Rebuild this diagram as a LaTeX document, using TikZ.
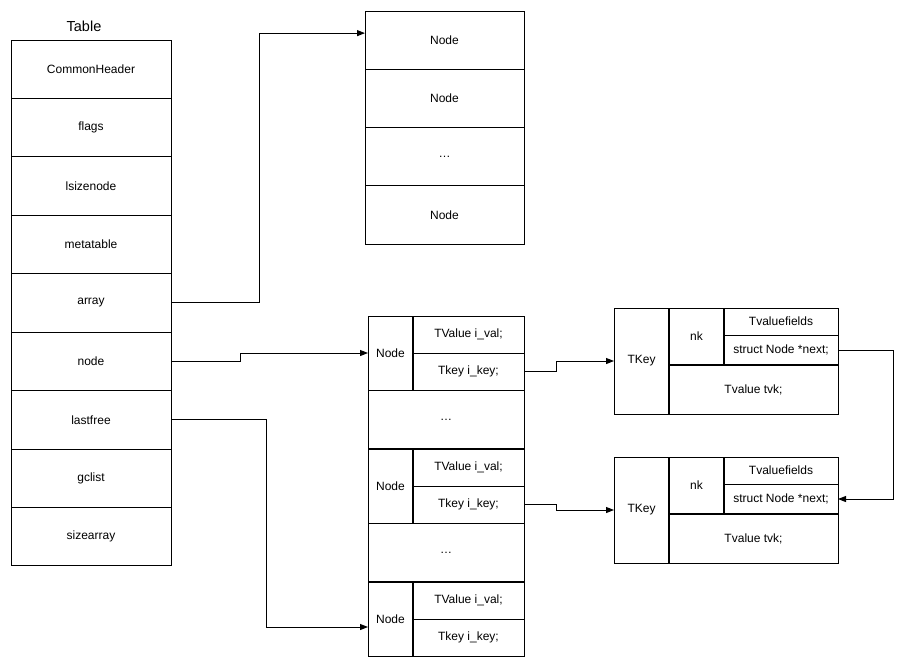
\documentclass[tikz,border=0pt]{standalone}
\usepackage{fontspec}
\setmainfont{Liberation Sans}
\usetikzlibrary{arrows.meta}
\begin{document}
\begin{tikzpicture}[x=1pt,y=-1pt,
 cell/.style={draw, line width=1pt, inner sep=0pt, outer sep=0pt, anchor=north west, font=\fontsize{12}{14}\selectfont, align=center},
 conn/.style={line width=1pt, -{Triangle[length=8pt,width=6pt]}},
 heavy/.style={line width=2pt}]
\useasboundingbox (0,0) rectangle (905,667);
\node[font=\fontsize{14.5}{17}\selectfont] (title) at (84,26) {Table};
% Table
\foreach \i/\t in {1/CommonHeader,2/flags,3/lsizenode,4/metatable,5/array,6/node,7/lastfree,8/gclist,9/sizearray}
  \node[cell, minimum width=160pt, minimum height=58.44pt] (t\i) at (11,{40+(\i-1)*58.44}) {\t};
% array part
\foreach \i/\t in {1/Node,2/Node,3/…,4/Node}
  \node[cell, minimum width=159pt, minimum height=58.25pt] (a\i) at (365,{11+(\i-1)*58.25}) {\t};
% node part
\node[cell, minimum width=45pt, minimum height=74pt] (nd1) at (368,316) {Node};
\node[cell, minimum width=111pt, minimum height=37pt] (v1) at (413,316) {TValue i\_val;};
\node[cell, minimum width=111pt, minimum height=37pt] (k1) at (413,353) {Tkey i\_key;};
\node[cell, minimum width=156pt, minimum height=59pt] (d1) at (368,390) {…};
\node[cell, minimum width=45pt, minimum height=74pt] (nd2) at (368,449) {Node};
\node[cell, minimum width=111pt, minimum height=37pt] (v2) at (413,449) {TValue i\_val;};
\node[cell, minimum width=111pt, minimum height=37pt] (k2) at (413,486) {Tkey i\_key;};
\node[cell, minimum width=156pt, minimum height=59pt] (d2) at (368,523) {…};
\node[cell, minimum width=45pt, minimum height=74pt] (nd3) at (368,582) {Node};
\node[cell, minimum width=111pt, minimum height=37pt] (v3) at (413,582) {TValue i\_val;};
\node[cell, minimum width=111pt, minimum height=37pt] (k3) at (413,619) {Tkey i\_key;};
\foreach \n in {nd1,nd2,nd3}
  \draw[heavy] (\n.north east) -- (\n.south east);
\draw[heavy] (d1.south west) -- (d1.south east);
\draw[heavy] (d2.south west) -- (d2.south east);
% TKey boxes
\foreach \j/\y in {1/308,2/457}{
  \node[cell, minimum width=55pt, minimum height=106pt] (T\j) at (614,\y) {TKey};
  \node[cell, minimum width=55pt, minimum height=57pt] (nk\j) at (669,\y) {nk};
  \node[cell, minimum width=114pt, minimum height=27pt] (f\j) at (724,\y) {Tvaluefields};
  \node[cell, minimum width=114pt, minimum height=30pt] (s\j) at (724,{\y+27}) {struct Node *next;};
  \node[cell, minimum width=169pt, minimum height=49pt] (tv\j) at (669,{\y+57}) {Tvalue tvk;};
  \draw[heavy] (T\j.north east) -- (T\j.south east);
  \draw[heavy] (nk\j.north east) -- (nk\j.south east);
  \draw[heavy] (tv\j.north west) -- (tv\j.north east);
}
% connectors
\draw[conn] (t5.east) -- ++(88,0) |- ([yshift=7pt]a1.west);
\draw[conn] (t6.east) -- ++(69,0) |- (nd1.west);
\draw[conn] (t7.east) -- ++(95,0) |- ([yshift=-8pt]nd3.west);
\draw[conn] (k1.east) -- ++(32,0) |- (T1.west);
\draw[conn] (k2.east) -- ++(32,0) |- (T2.west);
\draw[conn] (s1.east) -- ++(55,0) |- (s2.east);
\end{tikzpicture}
\end{document}
